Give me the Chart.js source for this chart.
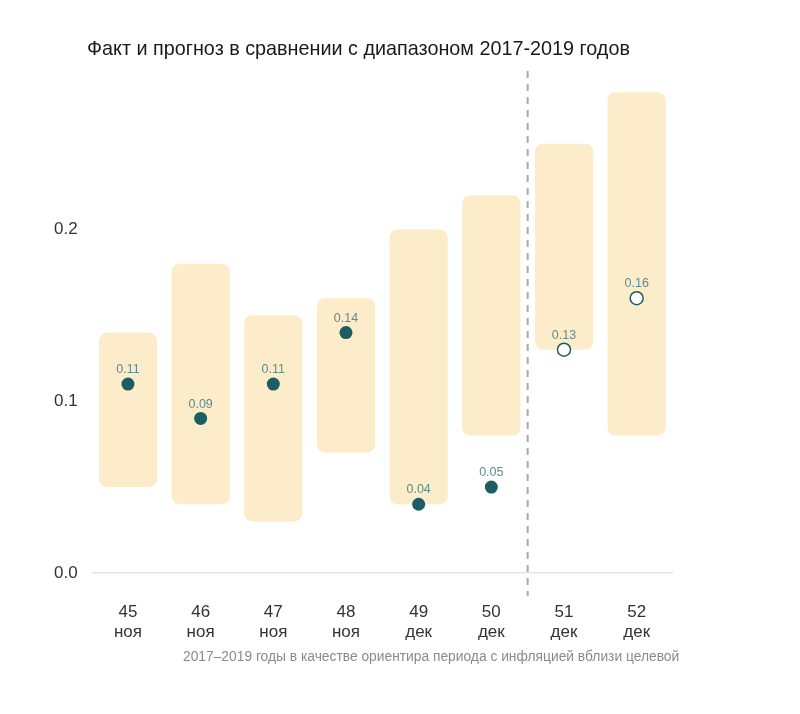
<!DOCTYPE html>
<html>
<head>
<meta charset="utf-8">
<script src="https://cdn.jsdelivr.net/npm/chart.js@4"></script>
<style>
  html, body { margin: 0; padding: 0; background: #fff; }
  #wrap { position: relative; width: 800px; height: 714px; }
  #title { position: absolute; left: 87px; top: 37px; font: 19.8px "Liberation Sans", Arial, sans-serif; color: #1a1a1a; }
  #note { position: absolute; left: 183px; top: 649px; font: 13.8px "Liberation Sans", Arial, sans-serif; color: #8a8a8a; }
</style>
</head>
<body>
<div id="wrap">
  <canvas id="chart" width="800" height="714"></canvas>
  <div id="title">Факт и прогноз в сравнении с диапазоном 2017-2019 годов</div>
  <div id="note">2017–2019 годы в качестве ориентира периода с инфляцией вблизи целевой</div>
</div>
<script>
// данные
const weeks = ['45', '46', '47', '48', '49', '50', '51', '52'];
const months = ['ноя', 'ноя', 'ноя', 'ноя', 'дек', 'дек', 'дек', 'дек'];
const rangeLow = [0.05, 0.04, 0.03, 0.07, 0.04, 0.08, 0.13, 0.08];
const rangeHigh = [0.14, 0.18, 0.15, 0.16, 0.20, 0.22, 0.25, 0.28];
const values = [0.11, 0.09, 0.11, 0.14, 0.04, 0.05, 0.13, 0.16];
const isForecast = [false, false, false, false, false, false, true, true];
const yTicks = [0, 0.1, 0.2];

const teal = '#1c5d63';

const labels = weeks.map((w, i) => [w, months[i]]);
const ranges = rangeLow.map((lo, i) => [lo, rangeHigh[i]]);

// пунктир между фактом и прогнозом
const dividerPlugin = {
    id: 'divider',
    beforeDatasetsDraw(chart) {
        const ctx = chart.ctx;
        const x = chart.scales.x.getPixelForValue(5.5);
        const area = chart.chartArea;
        ctx.save();
        ctx.strokeStyle = '#a9a9a9';
        ctx.lineWidth = 2;
        ctx.setLineDash([7, 6]);
        ctx.beginPath();
        ctx.moveTo(x, area.top - 4);
        ctx.lineTo(x, area.bottom + 23);
        ctx.stroke();
        ctx.restore();
    }
};

// подписи значений над точками
const pointLabels = {
    id: 'pointLabels',
    afterDatasetsDraw(chart) {
        const ctx = chart.ctx;
        const meta = chart.getDatasetMeta(1);
        ctx.save();
        ctx.font = '12.5px "Liberation Sans", Arial, sans-serif';
        ctx.fillStyle = '#5f8b8d';
        ctx.textAlign = 'center';
        ctx.textBaseline = 'bottom';
        meta.data.forEach((pt, i) => {
            ctx.fillText(values[i].toFixed(2), pt.x, pt.y - 8);
        });
        ctx.restore();
    }
};

new Chart(document.getElementById('chart'), {
    data: {
        labels: labels,
        datasets: [{
            type: 'bar',
            data: ranges,
            backgroundColor: '#fcecc9',
            borderRadius: 8,
            borderSkipped: false,
            barPercentage: 0.8,
            categoryPercentage: 1,
            order: 2
        }, {
            type: 'line',
            data: values,
            showLine: false,
            pointRadius: 6.5,
            pointHoverRadius: 6.5,
            pointBackgroundColor: isForecast.map(f => f ? '#ffffff' : teal),
            pointBorderColor: teal,
            pointBorderWidth: isForecast.map(f => f ? 1.5 : 0),
            order: 1
        }]
    },
    options: {
        responsive: false,
        animation: false,
        layout: { padding: { left: 40, right: 127, top: 75, bottom: 50 } },
        plugins: {
            legend: { display: false },
            tooltip: { enabled: false }
        },
        scales: {
            x: {
                grid: { display: false },
                border: { display: false },
                ticks: {
                    padding: 22,
                    color: '#333',
                    font: { size: 17, family: '"Liberation Sans", Arial, sans-serif', lineHeight: 1.15 }
                }
            },
            y: {
                min: 0,
                max: 0.29,
                afterBuildTicks: scale => { scale.ticks = yTicks.map(v => ({ value: v })); },
                grid: {
                    color: c => c.tick && c.tick.value === 0 ? '#e4e4e4' : 'rgba(0,0,0,0)',
                    lineWidth: 1.5,
                    drawTicks: false
                },
                border: { display: false },
                ticks: {
                    padding: 14,
                    color: '#333',
                    font: { size: 17, family: '"Liberation Sans", Arial, sans-serif' },
                    callback: v => v.toFixed(1)
                }
            }
        }
    },
    plugins: [dividerPlugin, pointLabels]
});
</script>
</body>
</html>
